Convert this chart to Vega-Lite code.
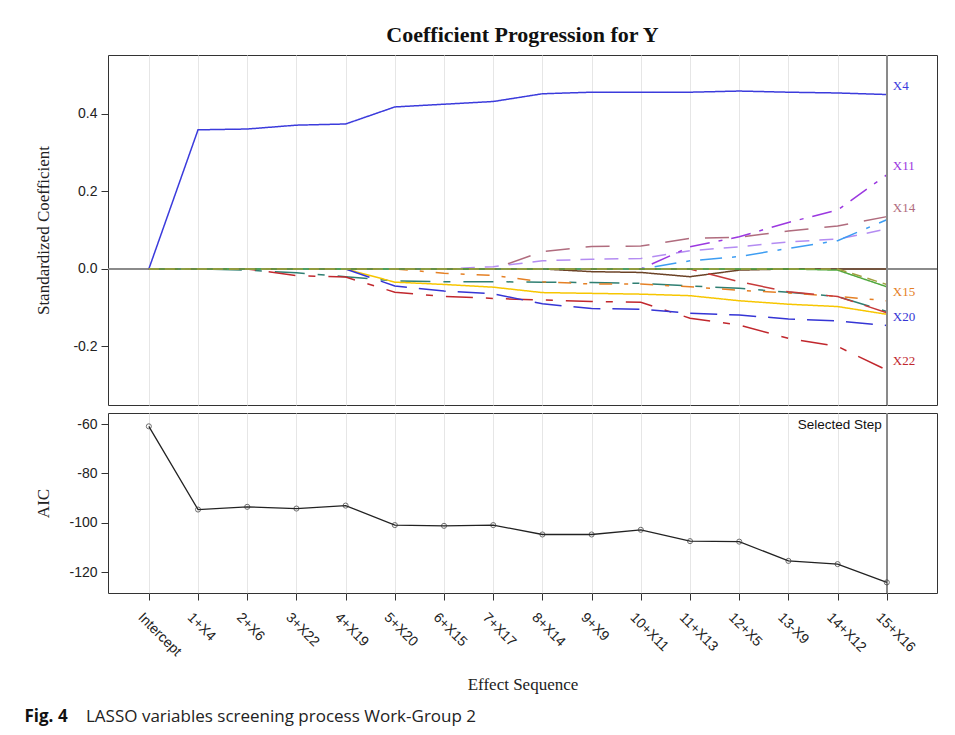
{
  "$schema": "https://vega.github.io/schema/vega-lite/v6.json",
  "background": "white",
  "padding": {"left": 24, "top": 23, "right": 18, "bottom": 4},
  "spacing": 4,
  "title": {"text": "Fig. 4", "orient": "bottom", "anchor": "start", "font": "Open Sans", "fontSize": 17, "fontWeight": "bold", "color": "#111", "dx": -9, "dy": -17, "offset": 0},
  "datasets": {
    "coef": [
      {"v":"X4","s":0,"c":0},{"v":"X4","s":1,"c":0.359},{"v":"X4","s":2,"c":0.361},{"v":"X4","s":3,"c":0.371},{"v":"X4","s":4,"c":0.374},{"v":"X4","s":5,"c":0.418},{"v":"X4","s":6,"c":0.425},{"v":"X4","s":7,"c":0.432},{"v":"X4","s":8,"c":0.452},{"v":"X4","s":9,"c":0.456},{"v":"X4","s":10,"c":0.456},{"v":"X4","s":11,"c":0.456},{"v":"X4","s":12,"c":0.459},{"v":"X4","s":13,"c":0.456},{"v":"X4","s":14,"c":0.454},{"v":"X4","s":15,"c":0.450},
      {"v":"X6","s":0,"c":0},{"v":"X6","s":1,"c":0},{"v":"X6","s":2,"c":-0.003},{"v":"X6","s":3,"c":-0.010},{"v":"X6","s":4,"c":-0.020},{"v":"X6","s":5,"c":-0.031},{"v":"X6","s":6,"c":-0.033},{"v":"X6","s":7,"c":-0.033},{"v":"X6","s":8,"c":-0.034},{"v":"X6","s":9,"c":-0.035},{"v":"X6","s":10,"c":-0.037},{"v":"X6","s":11,"c":-0.044},{"v":"X6","s":12,"c":-0.050},{"v":"X6","s":13,"c":-0.060},{"v":"X6","s":14,"c":-0.071},{"v":"X6","s":15,"c":-0.110},
      {"v":"X22","s":0,"c":0},{"v":"X22","s":1,"c":0},{"v":"X22","s":2,"c":0},{"v":"X22","s":3,"c":-0.017},{"v":"X22","s":4,"c":-0.021},{"v":"X22","s":5,"c":-0.060},{"v":"X22","s":6,"c":-0.071},{"v":"X22","s":7,"c":-0.076},{"v":"X22","s":8,"c":-0.080},{"v":"X22","s":9,"c":-0.084},{"v":"X22","s":10,"c":-0.086},{"v":"X22","s":11,"c":-0.127},{"v":"X22","s":12,"c":-0.145},{"v":"X22","s":13,"c":-0.179},{"v":"X22","s":14,"c":-0.200},{"v":"X22","s":15,"c":-0.261},
      {"v":"X19","s":0,"c":0},{"v":"X19","s":1,"c":0},{"v":"X19","s":2,"c":0},{"v":"X19","s":3,"c":0},{"v":"X19","s":4,"c":0},{"v":"X19","s":5,"c":-0.034},{"v":"X19","s":6,"c":-0.040},{"v":"X19","s":7,"c":-0.047},{"v":"X19","s":8,"c":-0.061},{"v":"X19","s":9,"c":-0.063},{"v":"X19","s":10,"c":-0.065},{"v":"X19","s":11,"c":-0.069},{"v":"X19","s":12,"c":-0.082},{"v":"X19","s":13,"c":-0.091},{"v":"X19","s":14,"c":-0.097},{"v":"X19","s":15,"c":-0.117},
      {"v":"X20","s":0,"c":0},{"v":"X20","s":1,"c":0},{"v":"X20","s":2,"c":0},{"v":"X20","s":3,"c":0},{"v":"X20","s":4,"c":0},{"v":"X20","s":5,"c":-0.044},{"v":"X20","s":6,"c":-0.057},{"v":"X20","s":7,"c":-0.064},{"v":"X20","s":8,"c":-0.090},{"v":"X20","s":9,"c":-0.102},{"v":"X20","s":10,"c":-0.104},{"v":"X20","s":11,"c":-0.114},{"v":"X20","s":12,"c":-0.119},{"v":"X20","s":13,"c":-0.129},{"v":"X20","s":14,"c":-0.134},{"v":"X20","s":15,"c":-0.146},
      {"v":"X15","s":0,"c":0},{"v":"X15","s":1,"c":0},{"v":"X15","s":2,"c":0},{"v":"X15","s":3,"c":0},{"v":"X15","s":4,"c":0},{"v":"X15","s":5,"c":0},{"v":"X15","s":6,"c":-0.011},{"v":"X15","s":7,"c":-0.017},{"v":"X15","s":8,"c":-0.033},{"v":"X15","s":9,"c":-0.039},{"v":"X15","s":10,"c":-0.039},{"v":"X15","s":11,"c":-0.046},{"v":"X15","s":12,"c":-0.055},{"v":"X15","s":13,"c":-0.062},{"v":"X15","s":14,"c":-0.071},{"v":"X15","s":15,"c":-0.082},
      {"v":"X17","s":0,"c":0},{"v":"X17","s":1,"c":0},{"v":"X17","s":2,"c":0},{"v":"X17","s":3,"c":0},{"v":"X17","s":4,"c":0},{"v":"X17","s":5,"c":0},{"v":"X17","s":6,"c":0},{"v":"X17","s":7,"c":0.006},{"v":"X17","s":8,"c":0.021},{"v":"X17","s":9,"c":0.025},{"v":"X17","s":10,"c":0.027},{"v":"X17","s":11,"c":0.047},{"v":"X17","s":12,"c":0.057},{"v":"X17","s":13,"c":0.070},{"v":"X17","s":14,"c":0.077},{"v":"X17","s":15,"c":0.103},
      {"v":"X14","s":0,"c":0},{"v":"X14","s":1,"c":0},{"v":"X14","s":2,"c":0},{"v":"X14","s":3,"c":0},{"v":"X14","s":4,"c":0},{"v":"X14","s":5,"c":0},{"v":"X14","s":6,"c":0},{"v":"X14","s":7,"c":0},{"v":"X14","s":8,"c":0.045},{"v":"X14","s":9,"c":0.058},{"v":"X14","s":10,"c":0.059},{"v":"X14","s":11,"c":0.079},{"v":"X14","s":12,"c":0.082},{"v":"X14","s":13,"c":0.098},{"v":"X14","s":14,"c":0.111},{"v":"X14","s":15,"c":0.135},
      {"v":"X9","s":0,"c":0},{"v":"X9","s":1,"c":0},{"v":"X9","s":2,"c":0},{"v":"X9","s":3,"c":0},{"v":"X9","s":4,"c":0},{"v":"X9","s":5,"c":0},{"v":"X9","s":6,"c":0},{"v":"X9","s":7,"c":0},{"v":"X9","s":8,"c":0},{"v":"X9","s":9,"c":-0.007},{"v":"X9","s":10,"c":-0.009},{"v":"X9","s":11,"c":-0.020},{"v":"X9","s":12,"c":-0.003},{"v":"X9","s":13,"c":0},{"v":"X9","s":14,"c":0},{"v":"X9","s":15,"c":0},
      {"v":"X11","s":0,"c":0},{"v":"X11","s":1,"c":0},{"v":"X11","s":2,"c":0},{"v":"X11","s":3,"c":0},{"v":"X11","s":4,"c":0},{"v":"X11","s":5,"c":0},{"v":"X11","s":6,"c":0},{"v":"X11","s":7,"c":0},{"v":"X11","s":8,"c":0},{"v":"X11","s":9,"c":0},{"v":"X11","s":10,"c":0},{"v":"X11","s":11,"c":0.057},{"v":"X11","s":12,"c":0.083},{"v":"X11","s":13,"c":0.120},{"v":"X11","s":14,"c":0.152},{"v":"X11","s":15,"c":0.243},
      {"v":"X13","s":0,"c":0},{"v":"X13","s":1,"c":0},{"v":"X13","s":2,"c":0},{"v":"X13","s":3,"c":0},{"v":"X13","s":4,"c":0},{"v":"X13","s":5,"c":0},{"v":"X13","s":6,"c":0},{"v":"X13","s":7,"c":0},{"v":"X13","s":8,"c":0},{"v":"X13","s":9,"c":0},{"v":"X13","s":10,"c":0},{"v":"X13","s":11,"c":0.021},{"v":"X13","s":12,"c":0.032},{"v":"X13","s":13,"c":0.053},{"v":"X13","s":14,"c":0.073},{"v":"X13","s":15,"c":0.127},
      {"v":"X5","s":0,"c":0},{"v":"X5","s":1,"c":0},{"v":"X5","s":2,"c":0},{"v":"X5","s":3,"c":0},{"v":"X5","s":4,"c":0},{"v":"X5","s":5,"c":0},{"v":"X5","s":6,"c":0},{"v":"X5","s":7,"c":0},{"v":"X5","s":8,"c":0},{"v":"X5","s":9,"c":0},{"v":"X5","s":10,"c":0},{"v":"X5","s":11,"c":0},{"v":"X5","s":12,"c":-0.033},{"v":"X5","s":13,"c":-0.059},{"v":"X5","s":14,"c":-0.071},{"v":"X5","s":15,"c":-0.113},
      {"v":"X12","s":0,"c":0},{"v":"X12","s":1,"c":0},{"v":"X12","s":2,"c":0},{"v":"X12","s":3,"c":0},{"v":"X12","s":4,"c":0},{"v":"X12","s":5,"c":0},{"v":"X12","s":6,"c":0},{"v":"X12","s":7,"c":0},{"v":"X12","s":8,"c":0},{"v":"X12","s":9,"c":0},{"v":"X12","s":10,"c":0},{"v":"X12","s":11,"c":0},{"v":"X12","s":12,"c":0},{"v":"X12","s":13,"c":0},{"v":"X12","s":14,"c":-0.003},{"v":"X12","s":15,"c":-0.046},
      {"v":"X16","s":0,"c":0},{"v":"X16","s":1,"c":0},{"v":"X16","s":2,"c":0},{"v":"X16","s":3,"c":0},{"v":"X16","s":4,"c":0},{"v":"X16","s":5,"c":0},{"v":"X16","s":6,"c":0},{"v":"X16","s":7,"c":0},{"v":"X16","s":8,"c":0},{"v":"X16","s":9,"c":0},{"v":"X16","s":10,"c":0},{"v":"X16","s":11,"c":0},{"v":"X16","s":12,"c":0},{"v":"X16","s":13,"c":0},{"v":"X16","s":14,"c":0},{"v":"X16","s":15,"c":-0.040}
    ],
    "aic": [
      {"s":0,"effect":"Intercept","aic":-60.9},{"s":1,"effect":"1+X4","aic":-94.6},{"s":2,"effect":"2+X6","aic":-93.5},{"s":3,"effect":"3+X22","aic":-94.2},{"s":4,"effect":"4+X19","aic":-93.0},{"s":5,"effect":"5+X20","aic":-100.9},{"s":6,"effect":"6+X15","aic":-101.2},{"s":7,"effect":"7+X17","aic":-100.9},{"s":8,"effect":"8+X14","aic":-104.7},{"s":9,"effect":"9+X9","aic":-104.7},{"s":10,"effect":"10+X11","aic":-102.8},{"s":11,"effect":"11+X13","aic":-107.4},{"s":12,"effect":"12+X5","aic":-107.6},{"s":13,"effect":"13-X9","aic":-115.4},{"s":14,"effect":"14+X12","aic":-116.7},{"s":15,"effect":"15+X16","aic":-124.1}
    ]
  },
  "config": {
    "view": {"stroke": "#333", "strokeWidth": 1},
    "axis": {"labelFont": "Liberation Sans", "labelFontSize": 14, "labelColor": "#222", "titleFont": "Liberation Serif", "titleFontSize": 17, "titleFontWeight": "normal", "titleColor": "#222", "tickColor": "#333", "tickSize": 7, "domain": false, "labelPadding": 4}
  },
  "vconcat": [
    {
      "width": 829,
      "height": 350,
      "title": {"text": "Coefficient Progression for Y", "font": "Liberation Serif", "fontSize": 22, "fontWeight": "bold", "color": "#111", "offset": 7, "anchor": "middle"},
      "data": {"name": "coef"},
      "layer": [
        {"mark": {"type": "rule", "color": "#8a8a8a", "strokeWidth": 1}, "encoding": {"y": {"datum": 0}}},
        {
          "mark": {"type": "line", "strokeWidth": 1.5},
          "encoding": {
            "x": {"field": "s", "type": "quantitative", "scale": {"domain": [-0.83, 16.02], "nice": false, "zero": false},
                  "axis": {"values": [0,1,2,3,4,5,6,7,8,9,10,11,12,13,14,15], "labels": false, "ticks": false, "grid": true, "gridColor": "#e6e6e6", "title": null, "labelPadding": 0}},
            "y": {"field": "c", "type": "quantitative", "scale": {"domain": [-0.351, 0.552], "nice": false, "zero": false},
                  "axis": {"values": [-0.2, 0, 0.2, 0.4], "labelExpr": "replace(format(datum.value, '.1f'), '\u2212', '-')", "grid": false, "title": "Standardized Coefficient", "titleX": -56}},
            "color": {"field": "v", "type": "nominal", "legend": null,
                      "scale": {"domain": ["X4","X6","X22","X19","X20","X15","X17","X14","X9","X11","X13","X5","X12","X16"],
                                "range": ["#3b3bdc","#2f7f72","#c1272d","#f7c600","#3535d5","#e58025","#b48cf2","#b06c7e","#6b4226","#9b38e0","#3d9df2","#c73a3a","#4fa83d","#a0a040"]}},
            "strokeDash": {"field": "v", "type": "nominal", "legend": null,
                      "scale": {"domain": ["X4","X6","X22","X19","X20","X15","X17","X14","X9","X11","X13","X5","X12","X16"],
                                "range": [[1,0],[30,13,7,13],[27,13,7,13],[1,0],[27,12],[13,12,4,12],[14,10],[24,16],[1,0],[20,9,4,9],[22,10,4,10],[28,12],[1,0],[10,6]]}}
          }
        },
        {"mark": {"type": "rule", "color": "#8a8a8a", "strokeWidth": 1.2}, "encoding": {"x": {"datum": 15}}},
        {
          "transform": [{"filter": "datum.s == 15 && indexof(['X4','X11','X14','X15','X20','X22'], datum.v) >= 0"}],
          "mark": {"type": "text", "align": "left", "baseline": "middle", "dx": 6, "dy": -9, "font": "Liberation Serif", "fontSize": 13},
          "encoding": {
            "x": {"field": "s", "type": "quantitative"},
            "y": {"field": "c", "type": "quantitative"},
            "text": {"field": "v"},
            "color": {"field": "v", "type": "nominal", "legend": null}
          }
        }
      ]
    },
    {
      "width": 829,
      "height": 180,
      "title": {"text": "LASSO variables screening process Work-Group 2", "orient": "bottom", "anchor": "start", "font": "Open Sans", "fontSize": 17, "fontWeight": "normal", "color": "#222", "dx": 52, "offset": 17},
      "data": {"name": "aic"},
      "layer": [
        {"mark": {"type": "rule", "color": "#8a8a8a", "strokeWidth": 1.2}, "encoding": {"x": {"datum": 15}}},
        {
          "mark": {"type": "line", "color": "#222", "strokeWidth": 1.3},
          "encoding": {
            "x": {"field": "s", "type": "quantitative", "scale": {"domain": [-0.83, 16.02], "nice": false, "zero": false},
                  "axis": {"values": [0,1,2,3,4,5,6,7,8,9,10,11,12,13,14,15], "grid": true, "gridColor": "#e6e6e6", "title": "Effect Sequence", "titlePadding": 18,
                           "labelExpr": "['Intercept','1+X4','2+X6','3+X22','4+X19','5+X20','6+X15','7+X17','8+X14','9+X9','10+X11','11+X13','12+X5','13-X9','14+X12','15+X16'][datum.value]",
                           "labelAngle": 45, "labelAlign": "left", "labelBaseline": "top", "labelPadding": 10, "labelOffset": -4, "labelOverlap": false, "labelBound": false, "labelFlush": false}},
            "y": {"field": "aic", "type": "quantitative", "scale": {"domain": [-128.4, -55.5], "nice": false, "zero": false},
                  "axis": {"values": [-60, -80, -100, -120], "labelExpr": "replace(format(datum.value, 'd'), '\u2212', '-')", "grid": false, "title": "AIC", "titleX": -56}}
          }
        },
        {
          "mark": {"type": "point", "filled": false, "color": "#333", "size": 26, "strokeWidth": 1},
          "encoding": {"x": {"field": "s", "type": "quantitative"}, "y": {"field": "aic", "type": "quantitative"}}
        },
        {
          "data": {"values": [{"s": 15, "label": "Selected Step"}]},
          "mark": {"type": "text", "align": "right", "baseline": "middle", "dx": -5, "font": "Liberation Sans", "fontSize": 13.5, "color": "#111"},
          "encoding": {"x": {"field": "s", "type": "quantitative"}, "y": {"datum": -60.3}, "text": {"field": "label"}}
        }
      ]
    }
  ]
}
